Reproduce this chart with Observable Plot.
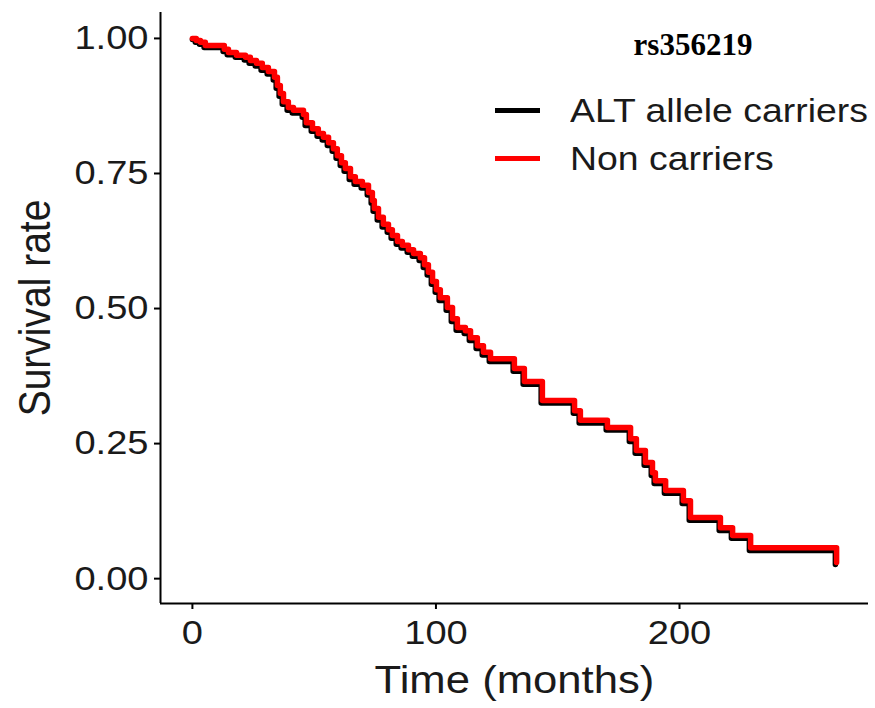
<!DOCTYPE html>
<html><head><meta charset="utf-8">
<script src="https://cdn.jsdelivr.net/npm/d3@7"></script>
<script src="https://cdn.jsdelivr.net/npm/@observablehq/plot@0.6"></script>
<style>
body{margin:0;background:#fff;}
#wrap{position:relative;width:875px;height:708px;background:#fff;}
#title{position:absolute;left:593px;width:200px;top:29px;text-align:center;font:bold 31px "Liberation Serif","Times New Roman",serif;line-height:1;color:#000;}
#legend{position:absolute;left:495px;top:86px;font-family:"Liberation Sans",Arial,sans-serif;font-size:34px;color:#1a1a1a;}
.row{display:flex;align-items:center;height:48px;}
.sw{width:45px;height:5px;margin-right:30px;}
.row span{display:inline-block;transform:scaleX(1.1);transform-origin:left center;}
</style></head><body>
<div id="wrap"><div id="title"></div><div id="legend"></div></div>
<script>
const titleText = "rs356219";
const seriesNames = ["ALT allele carriers", "Non carriers"];
const seriesColors = ["#000000", "#ff0000"];
const xTicks = [0, 100, 200];
const yTicks = [0, 0.25, 0.5, 0.75, 1];
const xLabel = "Time (months)";
const yLabel = "Survival rate";

// ALT allele carriers (black)
const altTime = [0,1.2,2.9,4.8,12.6,14.3,17.6,21.3,23.3,25.8,28.2,30.7,33.2,34.4,35.6,36.9,38.9,41.0,45.1,46.3,48.8,51.2,53.3,55.4,57.4,59.0,60.7,62.3,64.4,66.4,69.3,71.8,73.4,74.2,75.9,77.9,80.0,81.6,83.7,85.7,88.2,90.3,93.1,94.8,96.4,98.1,99.7,101.3,104.2,106.3,108.3,111.6,113.7,116.5,119.0,121.9,131.7,135.8,143.2,156.4,158.8,169.9,179.4,181.8,185.5,188.4,189.6,193.8,201.1,204.0,216.3,221.3,228.7,264.0];
const altSurv = [0.998,0.993,0.989,0.983,0.976,0.970,0.965,0.960,0.954,0.949,0.941,0.934,0.923,0.908,0.893,0.878,0.867,0.862,0.854,0.839,0.828,0.819,0.812,0.802,0.791,0.778,0.765,0.754,0.739,0.730,0.723,0.710,0.695,0.680,0.664,0.651,0.641,0.630,0.619,0.612,0.604,0.597,0.589,0.576,0.562,0.545,0.530,0.515,0.497,0.476,0.460,0.454,0.441,0.426,0.414,0.402,0.384,0.360,0.325,0.306,0.288,0.275,0.254,0.232,0.210,0.191,0.176,0.158,0.139,0.108,0.089,0.075,0.052,0.026];

// Non carriers (red)
const nonTime = [0,1.6,3.3,5.3,13.1,14.8,18.1,21.8,23.8,26.3,28.7,31.2,33.7,34.9,36.1,37.4,39.4,41.5,45.6,46.8,49.3,51.7,53.8,55.9,57.9,59.5,61.2,62.8,64.9,66.9,69.8,72.3,73.9,74.7,76.4,78.4,80.5,82.1,84.2,86.2,88.7,90.8,93.6,95.3,96.9,98.6,100.2,101.8,104.7,106.8,108.8,112.1,114.2,117.0,119.5,122.4,132.2,136.3,143.7,156.9,159.3,170.4,179.9,182.3,186.0,188.9,190.1,194.3,201.6,204.5,216.8,221.8,229.2,264.5];
const nonSurv = [1.000,0.996,0.993,0.987,0.980,0.974,0.969,0.965,0.959,0.954,0.946,0.939,0.928,0.913,0.898,0.883,0.872,0.867,0.859,0.844,0.833,0.824,0.817,0.807,0.796,0.783,0.770,0.759,0.744,0.735,0.728,0.715,0.700,0.685,0.669,0.656,0.646,0.635,0.624,0.617,0.609,0.602,0.594,0.581,0.567,0.550,0.535,0.520,0.502,0.481,0.465,0.459,0.446,0.431,0.419,0.407,0.389,0.365,0.330,0.311,0.293,0.280,0.259,0.237,0.215,0.196,0.181,0.163,0.144,0.113,0.094,0.080,0.057,0.030];

const xDomain = [-13.1, 277.6];
const yDomain = [-0.046, 1.048];

const alt = altTime.map((t, i) => ({t, s: altSurv[i]}));
const non = nonTime.map((t, i) => ({t, s: nonSurv[i]}));

const chart = Plot.plot({
  width: 875, height: 708,
  marginLeft: 160, marginRight: 7, marginTop: 12, marginBottom: 105,
  style: {fontFamily: '"Liberation Sans", Arial, sans-serif', background: "white", color: "#1a1a1a"},
  x: {domain: xDomain},
  y: {domain: yDomain},
  marks: [
    Plot.axisY(yTicks, {tickSize: 6, tickPadding: 6, tickFormat: d3.format(".2f"), fontSize: 34, label: null, strokeWidth: 2, stroke: "#000"}),
    Plot.axisX(xTicks, {tickSize: 6, tickPadding: 10, fontSize: 34, label: null, strokeWidth: 2, stroke: "#000"}),
    Plot.ruleX([xDomain[0]], {stroke: "#000", strokeWidth: 2}),
    Plot.ruleY([yDomain[0]], {stroke: "#000", strokeWidth: 2}),
    Plot.line(alt, {x: "t", y: "s", curve: "step-after", stroke: seriesColors[0], strokeWidth: 5.5}),
    Plot.line(non, {x: "t", y: "s", curve: "step-after", stroke: seriesColors[1], strokeWidth: 5.5}),
    Plot.text([yLabel], {frameAnchor: "left", textAnchor: "middle", lineAnchor: "middle", rotate: -90, dx: -124, fontSize: 39, fill: "#1a1a1a", className: "ylab"}),
    Plot.text([xLabel], {frameAnchor: "bottom", textAnchor: "middle", lineAnchor: "middle", dy: 77, fontSize: 39, fill: "#1a1a1a", className: "xlab"})
  ]
});

// horizontal stretch of text, as in the reference image
function stretch(el, sx, sy) {
  const tr = el.getAttribute("transform");
  if (tr) el.setAttribute("transform", tr + ` scale(${sx},${sy})`);
  else {
    const x = +el.getAttribute("x") || 0, y = +el.getAttribute("y") || 0;
    el.setAttribute("transform", `translate(${x},${y}) scale(${sx},${sy}) translate(${-x},${-y})`);
  }
}
chart.querySelectorAll('g[aria-label="y-axis tick label"] text, g[aria-label="x-axis tick label"] text, .xlab text')
  .forEach(el => stretch(el, 1.12, 1));
chart.querySelectorAll('.ylab text').forEach(el => stretch(el, 1, 1.12));

const wrap = document.getElementById("wrap");
wrap.insertBefore(chart, wrap.firstChild);
chart.style.position = "absolute";
chart.style.left = "0";
chart.style.top = "0";
document.getElementById("title").textContent = titleText;
const leg = document.getElementById("legend");
seriesNames.forEach((n, i) => {
  const r = document.createElement("div"); r.className = "row";
  const s = document.createElement("div"); s.className = "sw"; s.style.background = seriesColors[i];
  const l = document.createElement("span"); l.textContent = n;
  r.appendChild(s); r.appendChild(l); leg.appendChild(r);
});
</script></body></html>
